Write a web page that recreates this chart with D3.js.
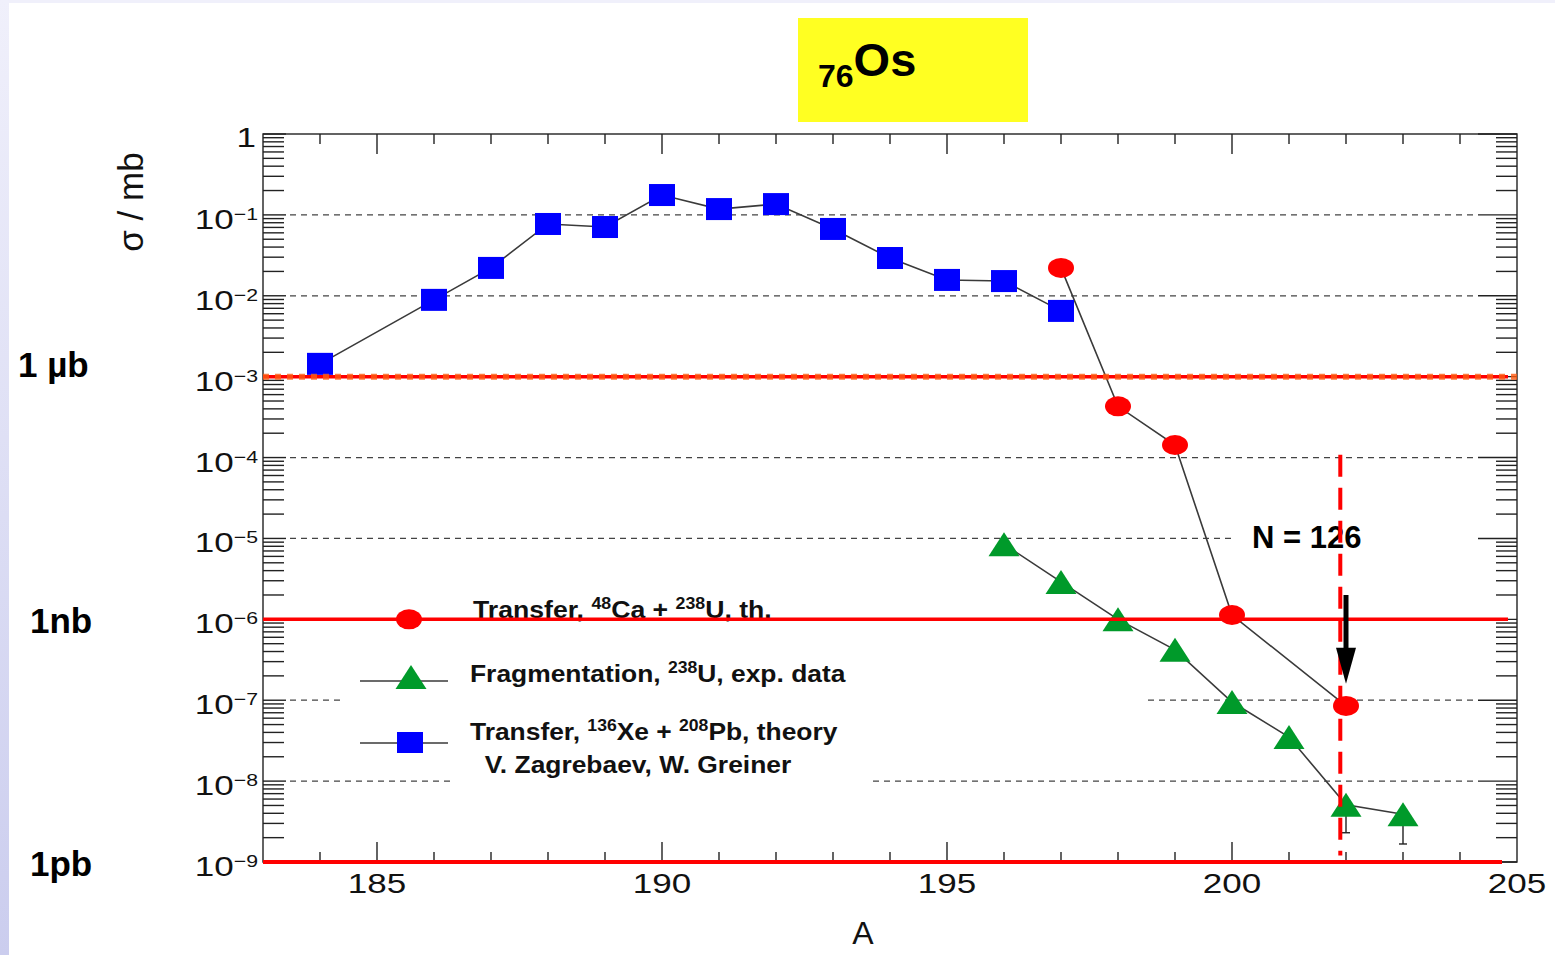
<!DOCTYPE html>
<html>
<head>
<meta charset="utf-8">
<script src="https://cdn.jsdelivr.net/npm/d3@7"></script>
<style>
  body { margin: 0; background: #fff; overflow: hidden; }
  svg { display: block; }
</style>
</head>
<body>
<div id="chart"></div>
<script>
// Datos: sección eficaz (mb) frente a número másico A
var massXe = [184, 186, 187, 188, 189, 190, 191, 192, 193, 194, 195, 196, 197];
var sigmaXe = [1.44e-3, 8.9e-3, 0.0221, 0.0772, 0.0708, 0.176, 0.118, 0.136, 0.067, 0.0293, 0.0157, 0.0152, 0.0065];

var massCa = [197, 198, 199, 200, 202];
var sigmaCa = [0.0221, 4.3e-4, 1.43e-4, 1.13e-6, 8.5e-8];

var massFrag = [196, 197, 198, 199, 200, 201, 202, 203];
var sigmaFrag = [8.5e-6, 2.9e-6, 1.0e-6, 4.2e-7, 9.5e-8, 3.5e-8, 5.1e-9, 3.9e-9];

var errMass = [202, 203];
var errLow = [2.3e-9, 1.67e-9];

var xTickLabels = [185, 190, 195, 200, 205];
var yTickExps = [0, -1, -2, -3, -4, -5, -6, -7, -8, -9];

var refValues = [1e-3, 1e-6, 1e-9];
var refLabels = ["1 µb", "1nb", "1pb"];

var shellA = 201.9;          // N = 126
var shellRange = [1.08e-4, 1.2e-9];
var arrowA = 202;
var arrowRange = [2.0e-6, 1.6e-7];

// Dimensiones
var width = 1555;
var height = 955;

var svg = d3.select("#chart")
  .append("svg")
  .attr("width", width)
  .attr("height", height)
  .style("font-family", "'Liberation Sans', Arial, sans-serif");

var x = d3.scaleLinear().domain([183, 205]).range([263, 1517]);
var y = d3.scaleLog().domain([1e-9, 1]).range([862, 134]);

// Fondo (franja lila a la izquierda)
var defs = svg.append("defs");
var grad = defs.append("linearGradient").attr("id", "side").attr("x1", 0).attr("y1", 0).attr("x2", 0).attr("y2", 1);
grad.append("stop").attr("offset", "0%").attr("stop-color", "#f0f0fb");
grad.append("stop").attr("offset", "100%").attr("stop-color", "#cbcdee");
svg.append("rect").attr("x", 0).attr("y", 0).attr("width", width).attr("height", 3).attr("fill", "#f0f0fb");
svg.append("rect").attr("x", 0).attr("y", 0).attr("width", 9).attr("height", height).attr("fill", "url(#side)");

// Título
svg.append("rect").attr("x", 798).attr("y", 18).attr("width", 230).attr("height", 104).attr("fill", "#ffff22");
var title = svg.append("text").attr("x", 818).attr("y", 87).attr("font-weight", "bold").attr("fill", "#000");
title.append("tspan").attr("font-size", 32).text("76");
title.append("tspan").attr("font-size", 47).attr("dy", -11).text("Os");

// Líneas de rejilla
var gridExps = yTickExps.filter(function(e) { return e < 0 && e > -9; });
svg.append("g").selectAll("line")
  .data(gridExps)
  .enter()
  .append("line")
  .attr("x1", 290).attr("x2", 1478)
  .attr("y1", function(d) { return y(Math.pow(10, d)); })
  .attr("y2", function(d) { return y(Math.pow(10, d)); })
  .attr("stroke", "#444")
  .attr("stroke-width", 1.2)
  .attr("stroke-dasharray", "6,5");

// Zonas blancas (leyenda y etiqueta N = 126)
svg.append("rect").attr("x", 345).attr("y", 640).attr("width", 800).attr("height", 75).attr("fill", "#fff");
svg.append("rect").attr("x", 450).attr("y", 715).attr("width", 420).attr("height", 80).attr("fill", "#fff");
svg.append("rect").attr("x", 1232).attr("y", 525).attr("width", 250).attr("height", 30).attr("fill", "#fff");

// Marcas de los ejes
var axes = svg.append("g").attr("stroke", "#222").attr("stroke-width", 1.4);
var minorY = [];
for (var k = -9; k < 0; k++) {
  for (var m = 2; m <= 9; m++) minorY.push(m * Math.pow(10, k));
}
minorY.forEach(function(v) {
  axes.append("line").attr("x1", 263).attr("x2", 284).attr("y1", y(v)).attr("y2", y(v));
  axes.append("line").attr("x1", 1496).attr("x2", 1517).attr("y1", y(v)).attr("y2", y(v));
});
yTickExps.forEach(function(e) {
  var v = Math.pow(10, e);
  axes.append("line").attr("x1", 263).attr("x2", 286).attr("y1", y(v)).attr("y2", y(v));
  axes.append("line").attr("x1", 1478).attr("x2", 1517).attr("y1", y(v)).attr("y2", y(v));
});
d3.range(184, 205).forEach(function(a) {
  var len = a % 5 === 0 ? 20 : 10;
  axes.append("line").attr("x1", x(a)).attr("x2", x(a)).attr("y1", 134).attr("y2", 134 + len);
  axes.append("line").attr("x1", x(a)).attr("x2", x(a)).attr("y1", 862).attr("y2", 862 - len);
});
axes.append("rect").attr("x", 263).attr("y", 134).attr("width", 1517 - 263).attr("height", 862 - 134).attr("fill", "none");

// Series
var line = d3.line()
  .x(function(d) { return x(d[0]); })
  .y(function(d) { return y(d[1]); });

var xeData = d3.zip(massXe, sigmaXe);
var caData = d3.zip(massCa, sigmaCa);
var fragData = d3.zip(massFrag, sigmaFrag);

[xeData, caData, fragData].forEach(function(s) {
  svg.append("path").datum(s)
    .attr("d", line)
    .attr("fill", "none")
    .attr("stroke", "#3a3a3a")
    .attr("stroke-width", 1.6);
});

// Barras de error (solo hacia abajo)
var errData = d3.zip(errMass, errLow);
var errG = svg.append("g").attr("stroke", "#222").attr("stroke-width", 1.4);
errData.forEach(function(d) {
  var i = massFrag.indexOf(d[0]);
  errG.append("line").attr("x1", x(d[0])).attr("x2", x(d[0])).attr("y1", y(sigmaFrag[i])).attr("y2", y(d[1]));
  errG.append("line").attr("x1", x(d[0]) - 4).attr("x2", x(d[0]) + 4).attr("y1", y(d[1])).attr("y2", y(d[1]));
});

// Marcadores
svg.append("g").selectAll("rect")
  .data(xeData)
  .enter()
  .append("rect")
  .attr("x", function(d) { return x(d[0]) - 13; })
  .attr("y", function(d) { return y(d[1]) - 11; })
  .attr("width", 26)
  .attr("height", 22)
  .attr("fill", "#0000ff");

function triangle(cx, cy) {
  return "M" + cx + "," + (cy - 12) + "L" + (cx + 15.5) + "," + (cy + 12) + "L" + (cx - 15.5) + "," + (cy + 12) + "Z";
}
svg.append("g").selectAll("path")
  .data(fragData)
  .enter()
  .append("path")
  .attr("d", function(d) { return triangle(x(d[0]), y(d[1])); })
  .attr("fill", "#009a2a");

svg.append("g").selectAll("ellipse")
  .data(caData)
  .enter()
  .append("ellipse")
  .attr("cx", function(d) { return x(d[0]); })
  .attr("cy", function(d) { return y(d[1]); })
  .attr("rx", 13)
  .attr("ry", 10)
  .attr("fill", "#ff0000");

// Texto con superíndices, estirado en horizontal
function richText(px, py, sx, parts, size, supSize, weight, anchor) {
  var g = svg.append("g").attr("transform", "translate(" + px + "," + py + ") scale(" + sx + ",1)");
  var t = g.append("text").attr("font-size", size).attr("font-weight", weight || "normal")
    .attr("text-anchor", anchor || "start").attr("fill", "#111");
  var raised = false;
  parts.forEach(function(p) {
    var ts = t.append("tspan").text(p[0]);
    if (p[1] && !raised) { ts.attr("font-size", supSize).attr("dy", -9); raised = true; }
    else if (!p[1] && raised) { ts.attr("dy", 9); raised = false; }
    else if (p[1]) { ts.attr("font-size", supSize); }
  });
  return t;
}

// Leyenda
richText(473, 618, 1.11, [["Transfer, "], ["48", 1], ["Ca + "], ["238", 1], ["U, th."]], 24, 16, "bold");
richText(470, 682, 1.1, [["Fragmentation, "], ["238", 1], ["U, exp. data"]], 24, 16, "bold");
richText(470, 740, 1.1, [["Transfer, "], ["136", 1], ["Xe + "], ["208", 1], ["Pb, theory"]], 24, 16, "bold");
richText(470, 773, 1.1, [["  V. Zagrebaev, W. Greiner"]], 24, 16, "bold").attr("xml:space", "preserve");

svg.append("line").attr("x1", 360).attr("x2", 448).attr("y1", 681).attr("y2", 681).attr("stroke", "#3a3a3a").attr("stroke-width", 1.6);
svg.append("line").attr("x1", 360).attr("x2", 448).attr("y1", 743).attr("y2", 743).attr("stroke", "#3a3a3a").attr("stroke-width", 1.6);
svg.append("path").attr("d", triangle(411, 677)).attr("fill", "#009a2a");
svg.append("rect").attr("x", 397).attr("y", 732).attr("width", 26).attr("height", 21).attr("fill", "#0000ff");

// Líneas de referencia 1 µb, 1 nb, 1 pb
var refEnds = [1508, 1508, 1502];
refValues.forEach(function(v, i) {
  svg.append("line")
    .attr("x1", 263).attr("x2", refEnds[i])
    .attr("y1", y(v)).attr("y2", y(v))
    .attr("stroke", "#ff0000")
    .attr("stroke-width", i === 2 ? 4 : 3.5);
});
svg.append("line")
  .attr("x1", 263).attr("x2", 1523)
  .attr("y1", y(refValues[0])).attr("y2", y(refValues[0]))
  .attr("stroke", "#ff5a10")
  .attr("stroke-width", 6)
  .attr("stroke-opacity", 0.8)
  .attr("stroke-dasharray", "6,6");
svg.append("ellipse").attr("cx", 409).attr("cy", y(refValues[1])).attr("rx", 13).attr("ry", 10).attr("fill", "#ff0000");

refLabels.forEach(function(l, i) {
  svg.append("text")
    .attr("x", i === 0 ? 18 : 30)
    .attr("y", y(refValues[i]) + [0, 14, 14][i])
    .attr("font-size", 35)
    .attr("font-weight", "bold")
    .attr("fill", "#000")
    .text(l);
});

// N = 126
svg.append("text").attr("x", 1252).attr("y", 548).attr("font-size", 31).attr("font-weight", "bold")
  .attr("fill", "#000").text("N = 126");
svg.append("line")
  .attr("x1", x(shellA)).attr("x2", x(shellA))
  .attr("y1", y(shellRange[0])).attr("y2", y(shellRange[1]))
  .attr("stroke", "#ff0000")
  .attr("stroke-width", 4)
  .attr("stroke-dasharray", "22,11");

// Flecha
var ax = x(arrowA), ay0 = y(arrowRange[0]), ay1 = y(arrowRange[1]);
svg.append("line").attr("x1", ax).attr("x2", ax).attr("y1", ay0).attr("y2", ay1 - 30)
  .attr("stroke", "#000").attr("stroke-width", 5);
svg.append("path")
  .attr("d", "M" + (ax - 10) + "," + (ay1 - 36) + "L" + (ax + 10) + "," + (ay1 - 36) + "L" + ax + "," + ay1 + "Z")
  .attr("fill", "#000");

// Etiquetas de los ejes
xTickLabels.forEach(function(a) {
  richText(x(a), 893, 1.25, [[String(a)]], 28, 17, "normal", "middle");
});
yTickExps.forEach(function(e) {
  var v = Math.pow(10, e);
  if (e === 0) {
    richText(256, y(v) + 13, 1.25, [["1"]], 28, 17, "normal", "end");
  } else {
    richText(258, y(v) + 14, 1.25, [["10"], ["\u2212" + (-e), 1]], 28, 17, "normal", "end");
  }
});

svg.append("text")
  .attr("transform", "translate(143,202) rotate(-90)")
  .attr("text-anchor", "middle")
  .attr("font-size", 35)
  .attr("fill", "#111")
  .text("σ / mb");

svg.append("text")
  .attr("x", 863).attr("y", 944)
  .attr("text-anchor", "middle")
  .attr("font-size", 32)
  .attr("fill", "#111")
  .text("A");
</script>
</body>
</html>
